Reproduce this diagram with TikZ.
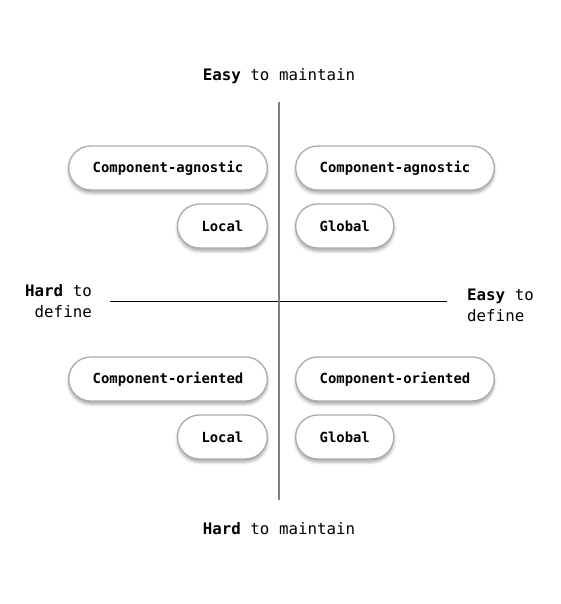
\documentclass[tikz,border=0pt]{standalone}
\usepackage{fontspec}
\setmonofont{DejaVu Sans Mono}
\usetikzlibrary{shadows.blur}

\tikzset{
	pill/.style={draw=black!33, line width=1.3pt, fill=white, rounded corners=22pt,
		minimum height=44pt, inner xsep=24pt, inner ysep=0pt,
		font=\ttfamily\bfseries\fontsize{13.9}{16}\selectfont,
		blur shadow={shadow xshift=0pt, shadow yshift=-3pt, shadow blur radius=3pt, shadow opacity=35}},
	axislabel/.style={font=\ttfamily\fontsize{15.8}{21}\selectfont, inner sep=0pt}
}

\begin{document}
\begin{tikzpicture}[x=1pt, y=-1pt]
	\useasboundingbox (0,0) rectangle (560,604);

	% axes
	\coordinate (top) at (279,102);
	\coordinate (bottom) at (279,500);
	\coordinate (left) at (110,301);
	\coordinate (right) at (447,301);

	\draw
		[black, line width=1pt] (left) -- (right);

	\draw
		[black!50, line width=1.5pt] (top) -- (bottom);

	\node (easymaint) at (279,76) [axislabel] {\textbf{Easy} to maintain};
	\node (hardmaint) at (279,529) [axislabel] {\textbf{Hard} to maintain};
	\node (harddef) at (92,301) [axislabel, anchor=east, align=right] {\textbf{Hard} to\\define};
	\node (easydef) at (467,305) [axislabel, anchor=west, align=left] {\textbf{Easy} to\\define};

	% top half
	\node (agnleft) at (268,168) [pill, anchor=east] {Component-agnostic};
	\node (agnright) at (295,168) [pill, anchor=west] {Component-agnostic};
	\node (agnlocal) at (268,226) [pill, anchor=east] {Local};
	\node (agnglobal) at (295,226) [pill, anchor=west] {Global};

	% bottom half
	\node (orileft) at (268,379) [pill, anchor=east] {Component-oriented};
	\node (oriright) at (295,379) [pill, anchor=west] {Component-oriented};
	\node (orilocal) at (268,437) [pill, anchor=east] {Local};
	\node (origlobal) at (295,437) [pill, anchor=west] {Global};
\end{tikzpicture}
\end{document}
